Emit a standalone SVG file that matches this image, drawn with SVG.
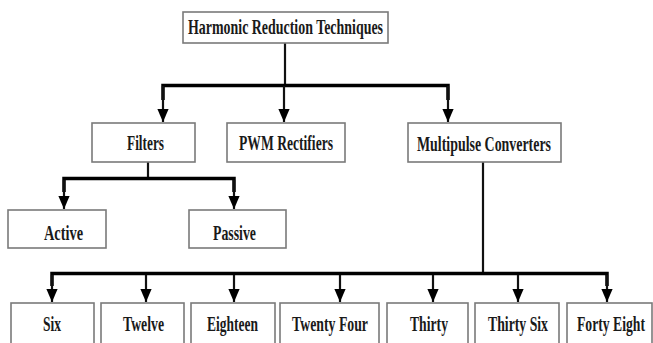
<svg xmlns="http://www.w3.org/2000/svg" width="653" height="343" viewBox="0 0 653 343">
<style>
.box{fill:#fff;stroke:#7a7a7a;stroke-width:1.6}
.t{font-family:"Liberation Serif","Times New Roman",serif;font-weight:bold;font-size:21px;fill:#1a1a1a;text-anchor:middle}
.bar{stroke:#000;stroke-width:3.5;fill:none;stroke-linejoin:miter}
.ln{stroke:#111;stroke-width:2.2;fill:none}
</style>
<defs>
<marker id="arr" markerUnits="userSpaceOnUse" markerWidth="13" markerHeight="15" refX="15" refY="6.5" orient="auto" viewBox="0 0 15 13">
<path d="M0,0 L15,6.5 L0,13 Z" fill="#000"/>
</marker>
</defs>
<rect width="653" height="343" fill="#fff"/>
<g id="connectors">
<line class="ln" x1="285" y1="43" x2="285" y2="85"/>
<polyline class="bar" points="163,100 163,85.5 448,85.5 448,100"/>
<line class="ln" x1="163" y1="86" x2="163" y2="122" marker-end="url(#arr)"/>
<line class="ln" x1="448" y1="86" x2="448" y2="122" marker-end="url(#arr)"/>
<line class="ln" x1="284" y1="86" x2="284" y2="122" marker-end="url(#arr)"/>
<line class="ln" x1="148" y1="162" x2="148" y2="178"/>
<polyline class="bar" points="64,192 64,178.5 234,178.5 234,192"/>
<line class="ln" x1="64" y1="180" x2="64" y2="209" marker-end="url(#arr)"/>
<line class="ln" x1="234" y1="180" x2="234" y2="209" marker-end="url(#arr)"/>
<line class="ln" x1="483" y1="162" x2="483" y2="273"/>
<polyline class="bar" points="52,286 52,273.5 607,273.5 607,286"/>
<line class="ln" x1="52" y1="275" x2="52" y2="302" marker-end="url(#arr)"/>
<line class="ln" x1="146" y1="275" x2="146" y2="302" marker-end="url(#arr)"/>
<line class="ln" x1="234" y1="275" x2="234" y2="302" marker-end="url(#arr)"/>
<line class="ln" x1="340" y1="275" x2="340" y2="302" marker-end="url(#arr)"/>
<line class="ln" x1="433" y1="275" x2="433" y2="302" marker-end="url(#arr)"/>
<line class="ln" x1="518" y1="275" x2="518" y2="302" marker-end="url(#arr)"/>
<line class="ln" x1="607" y1="275" x2="607" y2="302" marker-end="url(#arr)"/>
</g>
<g id="n-root"><rect class="box" x="183" y="12" width="205" height="31"/><text class="t" x="285.5" y="34" textLength="195" lengthAdjust="spacingAndGlyphs">Harmonic Reduction Techniques</text></g>
<g id="n-filters"><rect class="box" x="92" y="123" width="103" height="39"/><text class="t" x="145.5" y="150" textLength="37" lengthAdjust="spacingAndGlyphs">Filters</text></g>
<g id="n-pwm"><rect class="box" x="227" y="123" width="118" height="39"/><text class="t" x="286" y="150" textLength="94" lengthAdjust="spacingAndGlyphs">PWM Rectifiers</text></g>
<g id="n-multi"><rect class="box" x="408" y="123" width="153" height="39"/><text class="t" x="484" y="151" textLength="134" lengthAdjust="spacingAndGlyphs">Multipulse Converters</text></g>
<g id="n-active"><rect class="box" x="8" y="210" width="98" height="38"/><text class="t" x="63.5" y="240" textLength="39" lengthAdjust="spacingAndGlyphs">Active</text></g>
<g id="n-passive"><rect class="box" x="189" y="210" width="97" height="38"/><text class="t" x="234.5" y="240" textLength="43" lengthAdjust="spacingAndGlyphs">Passive</text></g>
<g id="n-six"><rect class="box" x="11" y="303" width="83" height="45"/><text class="t" x="52" y="331" textLength="18" lengthAdjust="spacingAndGlyphs">Six</text></g>
<g id="n-twelve"><rect class="box" x="101" y="303" width="83" height="45"/><text class="t" x="143.5" y="331" textLength="41" lengthAdjust="spacingAndGlyphs">Twelve</text></g>
<g id="n-eighteen"><rect class="box" x="191" y="303" width="84" height="45"/><text class="t" x="232.5" y="331" textLength="51" lengthAdjust="spacingAndGlyphs">Eighteen</text></g>
<g id="n-twentyfour"><rect class="box" x="280" y="303" width="99" height="45"/><text class="t" x="330" y="331" textLength="76" lengthAdjust="spacingAndGlyphs">Twenty Four</text></g>
<g id="n-thirty"><rect class="box" x="387" y="303" width="81" height="45"/><text class="t" x="429" y="331" textLength="38" lengthAdjust="spacingAndGlyphs">Thirty</text></g>
<g id="n-thirtysix"><rect class="box" x="475" y="303" width="84" height="45"/><text class="t" x="518" y="331" textLength="60" lengthAdjust="spacingAndGlyphs">Thirty Six</text></g>
<g id="n-fortyeight"><rect class="box" x="567" y="303" width="85" height="45"/><text class="t" x="611" y="331" textLength="68" lengthAdjust="spacingAndGlyphs">Forty Eight</text></g>
</svg>
